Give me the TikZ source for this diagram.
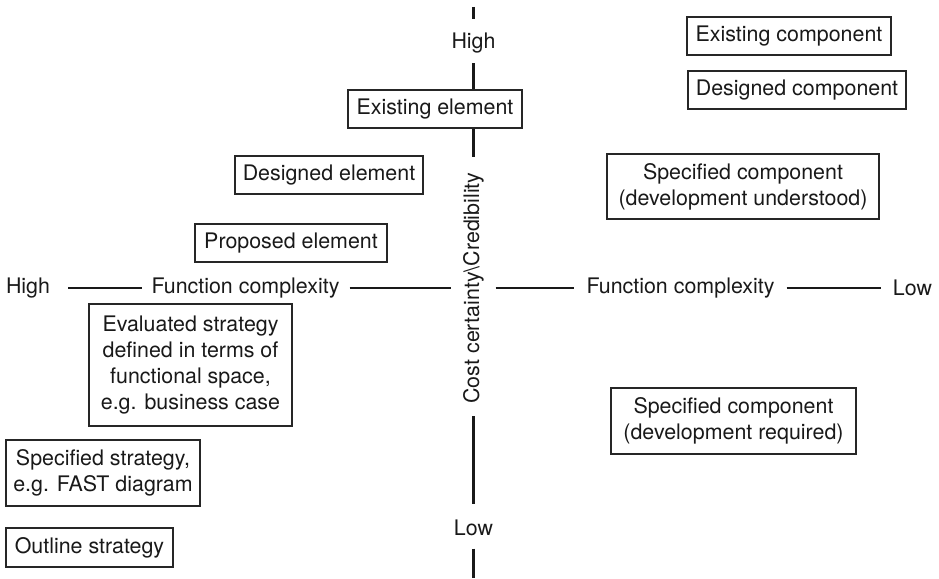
\documentclass[tikz,border=0pt]{standalone}
\usepackage{fontspec}
\setmainfont{TeX Gyre Heros}
\begin{document}
\begin{tikzpicture}[x=1pt,y=-1pt,
  every node/.style={font=\fontsize{21.4}{25.7}\selectfont, text=black!90},
  box/.style={draw=black!85, line width=1.4pt, fill=white, align=center, inner sep=2pt},
  lbl/.style={inner sep=0pt},
  axis/.style={line width=2.6pt, draw=black!90}]
\useasboundingbox (0,0) rectangle (939,578);

% axis labels
\node[lbl] (hiT) at (473.5,43) {High};
\node[lbl] (loB) at (473.5,528) {Low};
\node[lbl] (hiL) at (28,288) {High};
\node[lbl] (fcL) at (245.5,288) {Function complexity};
\node[lbl] (fcR) at (680.5,288) {Function complexity};
\node[lbl] (loR) at (912.5,288) {Low};
\node[lbl, rotate=90] (vlab) at (473.5,288) {Cost certainty\textbackslash Credibility};
\coordinate (topEnd) at (473.5,7);
\coordinate (botEnd) at (473.5,578);

% vertical axis
\draw[axis, shorten >=14pt] (topEnd) -- (hiT);
\draw[axis, shorten <=10pt, shorten >=15.5pt] (hiT) -- (vlab);
\draw[axis, shorten <=12.5pt, shorten >=15.5pt] (vlab) -- (loB);
\draw[axis, shorten <=12.5pt] (loB) -- (botEnd);

% horizontal axis
\draw[axis, shorten <=18pt, shorten >=9pt] (hiL) -- (fcL);
\draw[axis, shorten <=10pt, shorten >=11.5pt] (fcL) -- (vlab);
\draw[axis, shorten <=11.5pt, shorten >=12pt] (vlab) -- (fcR);
\draw[axis, shorten <=12pt, shorten >=12pt] (fcR) -- (loR);

% elements and components
\node[box, minimum width=174pt, minimum height=38pt] (ee) at (435,109) {Existing element};
\node[box, minimum width=188pt, minimum height=38pt] (de) at (329,175) {Designed element};
\node[box, minimum width=192pt, minimum height=38pt] (pe) at (291,243) {Proposed element};
\node[box, minimum width=204pt, minimum height=38pt] (ec) at (789,36) {Existing component};
\node[box, minimum width=218pt, minimum height=38pt] (dc) at (797,90) {Designed component};
\node[box, minimum width=272pt, minimum height=65pt] (scu) at (743,186.5) {Specified component\\(development understood)};
\node[box, minimum width=245pt, minimum height=66pt] (scr) at (733.5,421) {Specified component\\(development required)};

% strategies
\node[box, minimum width=203pt, minimum height=122pt] (es) at (190.5,365) {Evaluated strategy\\defined in terms of\\functional space,\\e.g. business case};
\node[box, minimum width=194pt, minimum height=66pt] (ss) at (103,473) {Specified strategy,\\e.g. FAST diagram};
\node[box, minimum width=167pt, minimum height=39pt] (os) at (89.5,547.5) {Outline strategy};
\end{tikzpicture}
\end{document}
